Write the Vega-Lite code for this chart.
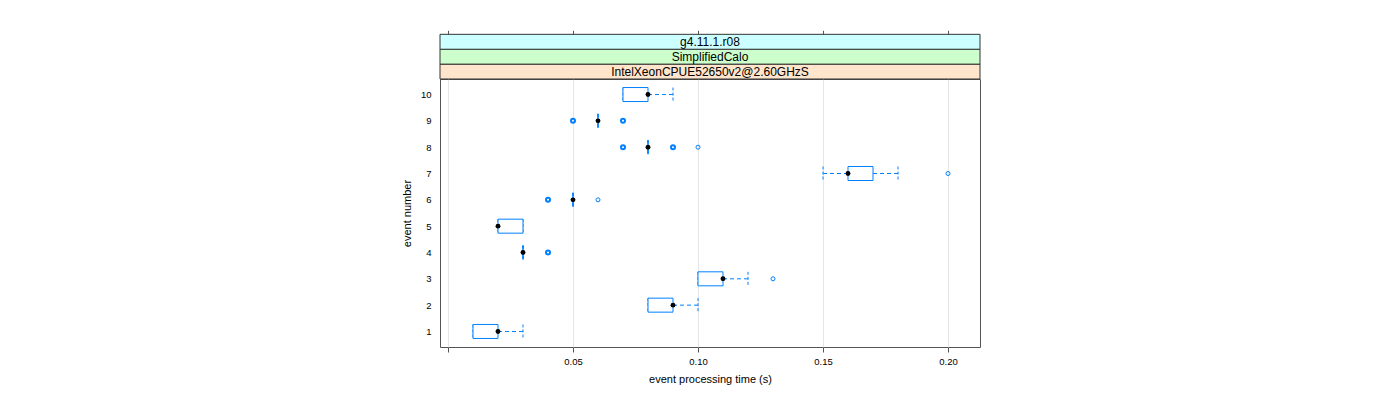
{
  "$schema": "https://vega.github.io/schema/vega-lite/v6.json",
  "width": 540,
  "height": 268,
  "autosize": {"type": "none"},
  "padding": {"left": 440, "top": 79, "right": 420, "bottom": 53},
  "background": "white",
  "config": {
    "font": "Liberation Sans",
    "view": {"stroke": "#555555", "strokeWidth": 1},
    "axis": {"labelFont": "Liberation Sans", "titleFont": "Liberation Sans", "labelColor": "#000000", "titleColor": "#000000", "titleFontWeight": "normal", "domain": false}
  },
  "datasets": {
    "boxes": [
      {"event": 1, "lo": 0.01, "q1": 0.01, "med": 0.02, "q3": 0.02, "hi": 0.03},
      {"event": 2, "lo": 0.08, "q1": 0.08, "med": 0.09, "q3": 0.09, "hi": 0.10},
      {"event": 3, "lo": 0.10, "q1": 0.10, "med": 0.11, "q3": 0.11, "hi": 0.12},
      {"event": 4, "lo": 0.03, "q1": 0.03, "med": 0.03, "q3": 0.03, "hi": 0.03},
      {"event": 5, "lo": 0.02, "q1": 0.02, "med": 0.02, "q3": 0.03, "hi": 0.03},
      {"event": 6, "lo": 0.05, "q1": 0.05, "med": 0.05, "q3": 0.05, "hi": 0.05},
      {"event": 7, "lo": 0.15, "q1": 0.16, "med": 0.16, "q3": 0.17, "hi": 0.18},
      {"event": 8, "lo": 0.08, "q1": 0.08, "med": 0.08, "q3": 0.08, "hi": 0.08},
      {"event": 9, "lo": 0.06, "q1": 0.06, "med": 0.06, "q3": 0.06, "hi": 0.06},
      {"event": 10, "lo": 0.07, "q1": 0.07, "med": 0.08, "q3": 0.08, "hi": 0.09}
    ],
    "outliers": [
      {"event": 3, "value": 0.13, "n": 1},
      {"event": 4, "value": 0.04, "n": 3},
      {"event": 6, "value": 0.04, "n": 3},
      {"event": 6, "value": 0.06, "n": 1},
      {"event": 7, "value": 0.20, "n": 1},
      {"event": 8, "value": 0.07, "n": 3},
      {"event": 8, "value": 0.09, "n": 3},
      {"event": 8, "value": 0.10, "n": 1},
      {"event": 9, "value": 0.05, "n": 3},
      {"event": 9, "value": 0.07, "n": 3}
    ],
    "strips": [
      {"label": "IntelXeonCPUE52650v2@2.60GHzS", "level": 1},
      {"label": "SimplifiedCalo", "level": 2},
      {"label": "g4.11.1.r08", "level": 3}
    ]
  },
  "layer": [
    {
      "encoding": {
        "y": {
          "field": "event", "type": "ordinal",
          "scale": {"type": "point", "padding": 0.59, "domain": [10, 9, 8, 7, 6, 5, 4, 3, 2, 1]},
          "axis": {"title": "event number", "ticks": false, "labelPadding": 9, "labelFontSize": 9.5, "titleFontSize": 11, "titlePadding": 8, "grid": false}
        }
      },
      "layer": [
        {
          "data": {"name": "boxes"},
          "mark": {"type": "rule", "color": "#0080ff", "strokeDash": [4, 3], "strokeWidth": 1},
          "encoding": {
            "x": {"field": "lo", "type": "quantitative", "scale": {"domain": [-0.0032, 0.2128], "nice": false, "zero": false},
              "axis": {"title": "event processing time (s)", "values": [0, 0.05, 0.1, 0.15, 0.2], "labelExpr": "datum.value == 0 ? '' : format(datum.value, '.2f')", "ticks": true, "tickSize": 5, "tickColor": "#555555", "labelPadding": 4, "labelFontSize": 9.5, "titleFontSize": 11, "titlePadding": 8, "grid": true, "gridColor": "#e6e6e6"}},
            "x2": {"field": "q1"}
          }
        },
        {
          "data": {"name": "boxes"},
          "mark": {"type": "rule", "color": "#0080ff", "strokeDash": [4, 3], "strokeWidth": 1},
          "encoding": {
            "x": {"field": "q3", "type": "quantitative", "scale": {"domain": [-0.0032, 0.2128], "nice": false, "zero": false},
              "axis": {"title": "event processing time (s)", "values": [0, 0.05, 0.1, 0.15, 0.2], "labelExpr": "datum.value == 0 ? '' : format(datum.value, '.2f')", "ticks": true, "tickSize": 5, "tickColor": "#555555", "labelPadding": 4, "labelFontSize": 9.5, "titleFontSize": 11, "titlePadding": 8, "grid": true, "gridColor": "#e6e6e6"}},
            "x2": {"field": "hi"}
          }
        },
        {
          "data": {"name": "boxes"},
          "mark": {"type": "rule", "color": "#0080ff", "strokeDash": [3, 2], "strokeWidth": 1, "yOffset": -7, "y2Offset": 7},
          "encoding": {
            "x": {"field": "lo", "type": "quantitative", "scale": {"domain": [-0.0032, 0.2128], "nice": false, "zero": false},
              "axis": {"title": "event processing time (s)", "values": [0, 0.05, 0.1, 0.15, 0.2], "labelExpr": "datum.value == 0 ? '' : format(datum.value, '.2f')", "ticks": true, "tickSize": 5, "tickColor": "#555555", "labelPadding": 4, "labelFontSize": 9.5, "titleFontSize": 11, "titlePadding": 8, "grid": true, "gridColor": "#e6e6e6"}},
            "y2": {"field": "event"}
          }
        },
        {
          "data": {"name": "boxes"},
          "mark": {"type": "rule", "color": "#0080ff", "strokeDash": [3, 2], "strokeWidth": 1, "yOffset": -7, "y2Offset": 7},
          "encoding": {
            "x": {"field": "hi", "type": "quantitative", "scale": {"domain": [-0.0032, 0.2128], "nice": false, "zero": false},
              "axis": {"title": "event processing time (s)", "values": [0, 0.05, 0.1, 0.15, 0.2], "labelExpr": "datum.value == 0 ? '' : format(datum.value, '.2f')", "ticks": true, "tickSize": 5, "tickColor": "#555555", "labelPadding": 4, "labelFontSize": 9.5, "titleFontSize": 11, "titlePadding": 8, "grid": true, "gridColor": "#e6e6e6"}},
            "y2": {"field": "event"}
          }
        },
        {
          "data": {"name": "boxes"},
          "mark": {"type": "bar", "orient": "horizontal", "size": 14, "fill": "white", "stroke": "#0080ff", "strokeWidth": 1},
          "encoding": {
            "x": {"field": "q1", "type": "quantitative", "scale": {"domain": [-0.0032, 0.2128], "nice": false, "zero": false},
              "axis": {"title": "event processing time (s)", "values": [0, 0.05, 0.1, 0.15, 0.2], "labelExpr": "datum.value == 0 ? '' : format(datum.value, '.2f')", "ticks": true, "tickSize": 5, "tickColor": "#555555", "labelPadding": 4, "labelFontSize": 9.5, "titleFontSize": 11, "titlePadding": 8, "grid": true, "gridColor": "#e6e6e6"}},
            "x2": {"field": "q3"}
          }
        },
        {
          "data": {"name": "boxes"},
          "mark": {"type": "point", "shape": "circle", "filled": true, "color": "#000000", "size": 24, "opacity": 1},
          "encoding": {
            "x": {"field": "med", "type": "quantitative", "scale": {"domain": [-0.0032, 0.2128], "nice": false, "zero": false},
              "axis": {"title": "event processing time (s)", "values": [0, 0.05, 0.1, 0.15, 0.2], "labelExpr": "datum.value == 0 ? '' : format(datum.value, '.2f')", "ticks": true, "tickSize": 5, "tickColor": "#555555", "labelPadding": 4, "labelFontSize": 9.5, "titleFontSize": 11, "titlePadding": 8, "grid": true, "gridColor": "#e6e6e6"}}
          }
        },
        {
          "data": {"name": "outliers"},
          "mark": {"type": "point", "shape": "circle", "filled": false, "color": "#0080ff", "size": 16, "opacity": 1},
          "encoding": {
            "x": {"field": "value", "type": "quantitative", "scale": {"domain": [-0.0032, 0.2128], "nice": false, "zero": false},
              "axis": {"title": "event processing time (s)", "values": [0, 0.05, 0.1, 0.15, 0.2], "labelExpr": "datum.value == 0 ? '' : format(datum.value, '.2f')", "ticks": true, "tickSize": 5, "tickColor": "#555555", "labelPadding": 4, "labelFontSize": 9.5, "titleFontSize": 11, "titlePadding": 8, "grid": true, "gridColor": "#e6e6e6"}},
            "strokeWidth": {"field": "n", "type": "quantitative", "scale": {"domain": [1, 3], "range": [1, 2]}, "legend": null}
          }
        }
      ]
    },
    {
      "data": {"name": "strips"},
      "encoding": {
        "y": {"field": "level", "type": "quantitative", "scale": {"domain": [-17.5, 0.5], "nice": false, "zero": false}, "axis": null}
      },
      "layer": [
        {
          "mark": {"type": "rect", "stroke": "#333333", "strokeWidth": 1, "opacity": 1, "yOffset": -7.45, "y2Offset": 7.45},
          "encoding": {
            "x": {
              "datum": -0.0032, "type": "quantitative",
              "scale": {"domain": [-0.0032, 0.2128], "nice": false, "zero": false},
              "axis": {"orient": "top", "offset": 44.7, "labels": false, "ticks": true, "tickSize": 4, "tickColor": "#555555", "domain": false, "grid": false, "title": null, "values": [0, 0.05, 0.1, 0.15, 0.2]}
            },
            "x2": {"datum": 0.2128},
            "y2": {"field": "level"},
            "color": {"field": "label", "type": "nominal", "scale": {"domain": ["IntelXeonCPUE52650v2@2.60GHzS", "SimplifiedCalo", "g4.11.1.r08"], "range": ["#ffe5cc", "#ccffcc", "#ccffff"]}, "legend": null}
          }
        },
        {
          "mark": {"type": "text", "font": "Liberation Sans", "fontSize": 12, "color": "#000000", "baseline": "middle", "align": "center"},
          "encoding": {
            "x": {"datum": 0.1048, "type": "quantitative", "scale": {"domain": [-0.0032, 0.2128], "nice": false, "zero": false}},
            "text": {"field": "label"}
          }
        }
      ]
    }
  ],
  "resolve": {"scale": {"y": "independent"}, "axis": {"x": "independent"}}
}
